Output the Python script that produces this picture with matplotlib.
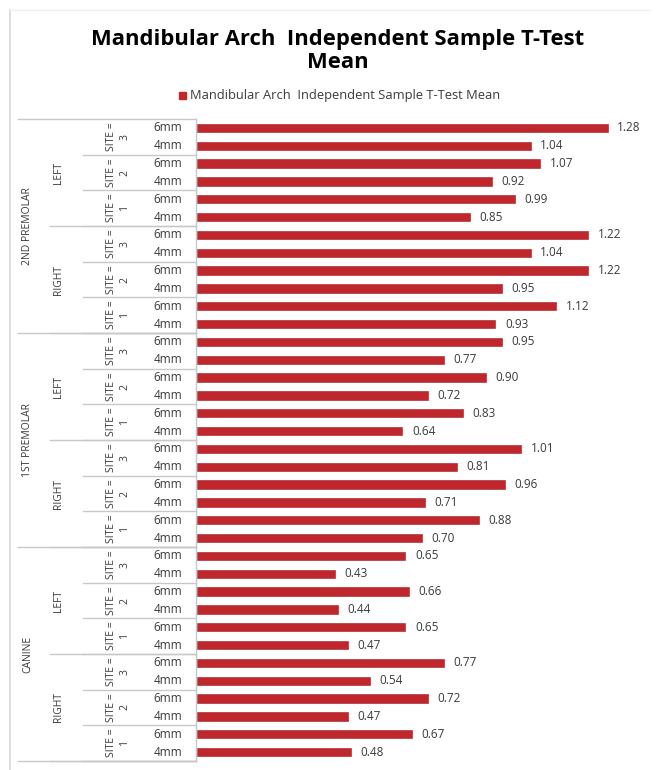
import matplotlib
matplotlib.use("Agg")
import matplotlib.pyplot as plt
import matplotlib.transforms as mtransforms

plt.rcParams['font.family'] = ['Open Sans', 'DejaVu Sans']

# Data (top to bottom)
teeth = ["2ND PREMOLAR", "1ST PREMOLAR", "CANINE"]
sides = ["LEFT", "RIGHT"]
sites = ["3", "2", "1"]
depths = ["6mm", "4mm"]
means = [
    1.28, 1.04, 1.07, 0.92, 0.99, 0.85,   # 2nd premolar left
    1.22, 1.04, 1.22, 0.95, 1.12, 0.93,   # 2nd premolar right
    0.95, 0.77, 0.90, 0.72, 0.83, 0.64,   # 1st premolar left
    1.01, 0.81, 0.96, 0.71, 0.88, 0.70,   # 1st premolar right
    0.65, 0.43, 0.66, 0.44, 0.65, 0.47,   # canine left
    0.77, 0.54, 0.72, 0.47, 0.67, 0.48,   # canine right
]
title = "Mandibular Arch  Independent Sample T-Test\nMean"
series_name = "Mandibular Arch  Independent Sample T-Test Mean"

W, H = 658, 770
bar_color = "#C0272D"
line_color = "#C8C8C8"
text_color = "#3A3A3A"

fig = plt.figure(figsize=(W / 100, H / 100), dpi=100)
x0, x1 = 197, 646
y_top, y_bot = 119, 761
ax = fig.add_axes([x0 / W, (H - y_bot) / H, (x1 - x0) / W, (y_bot - y_top) / H])

n = len(means)
rows = list(range(n))
ax.barh(rows, means, height=0.46, color=bar_color, edgecolor="#A01E24", linewidth=0.4)
ax.set_xlim(0, 1.4)
ax.set_ylim(n - 0.5, -0.5)
ax.axis("off")

for r, v in zip(rows, means):
    ax.text(v + 0.03, r, f"{v:.2f}", va="center", ha="left", fontsize=8.5, color=text_color)

# hierarchical category labels
trans = mtransforms.blended_transform_factory(fig.transFigure, ax.transData)

def px(x):
    return x / W

r = 0
for tooth in teeth:
    t_start = r
    for side in sides:
        s_start = r
        for site in sites:
            for d in depths:
                ax.text(px(168), r, d, transform=trans, ha="center", va="center",
                        fontsize=8.5, color=text_color)
                r += 1
            ax.text(px(118), r - 1.5, "SITE =\n" + site, transform=trans, ha="center",
                    va="center", rotation=90, fontsize=7.5, color=text_color,
                    linespacing=1.3)
            ax.plot([px(83), px(196)], [r - 0.5, r - 0.5], transform=trans,
                    color=line_color, lw=1, clip_on=False)
        ax.text(px(59), (s_start + r - 1) / 2, side, transform=trans, ha="center",
                va="center", rotation=90, fontsize=7.5, color=text_color)
        ax.plot([px(50), px(196)], [r - 0.5, r - 0.5], transform=trans,
                color=line_color, lw=1, clip_on=False)
    ax.text(px(28), (t_start + r - 1) / 2, tooth, transform=trans, ha="center",
            va="center", rotation=90, fontsize=7.5, color=text_color)
    ax.plot([px(18), px(196)], [r - 0.5, r - 0.5], transform=trans,
            color=line_color, lw=1, clip_on=False)

# top border of category area and the axis line
ax.plot([px(18), px(196)], [-0.5, -0.5], transform=trans, color=line_color, lw=1, clip_on=False)
ax.plot([px(196), px(196)], [-0.5, n - 0.5], transform=trans, color=line_color, lw=1, clip_on=False)

# chart frame on the left
fig.add_artist(plt.Line2D([px(10), px(10)], [0, (H - 10) / H], color="#D8D8D8", lw=1.2))
fig.add_artist(plt.Line2D([px(10), px(650)], [(H - 10) / H, (H - 10) / H], color="#F0F0F0", lw=1))

fig.text(px(338), 1 - 51 / H, title, ha="center", va="center", fontsize=15.8,
         fontweight="bold", color="black", linespacing=1.15)

# legend
fig.patches.append(plt.Rectangle((px(179), 1 - 99 / H), 7 / W, 7 / H, color=bar_color,
                                 transform=fig.transFigure, figure=fig))
fig.text(px(190), 1 - 95.5 / H, series_name, ha="left", va="center", fontsize=9.3, color=text_color)

fig.savefig("out.png", dpi=100)
